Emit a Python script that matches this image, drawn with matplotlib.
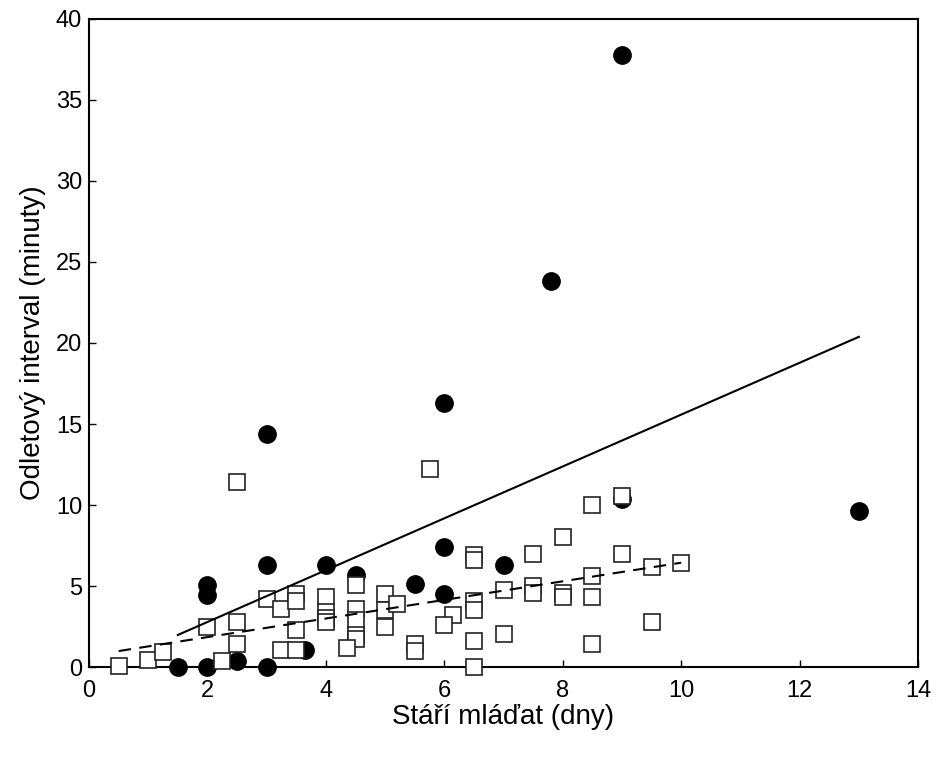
import matplotlib
matplotlib.use("Agg")
import matplotlib.pyplot as plt
import numpy as np

plt.rcParams['font.family'] = ['Liberation Sans', 'DejaVu Sans']

# Filled circles (group 1)
circ_x = [9, 7.8, 6, 3, 13, 9, 3, 4, 2, 2, 4.5, 5.5, 6, 6, 7,
          1.5, 2, 2.5, 3, 3.65]
circ_y = [37.8, 23.8, 16.3, 14.4, 9.6, 10.4, 6.3, 6.3, 5.05, 4.45, 5.7, 5.15, 7.4, 4.5, 6.3,
          0, 0, 0.35, 0, 1.05]

# Open squares (group 2)
sq_x = [0.5, 1, 1.25, 2, 2.5, 2.5, 2.25, 2.5,
        3, 3.25, 3.5, 3.5, 3.5, 3.25, 3.5,
        4, 4, 4, 4, 4.5, 4.5, 4.5, 4.5, 4.5, 4.35,
        5, 5, 5.2, 5, 5.5, 5.5, 5.75,
        6.15, 6, 6.5, 6.5, 6.5, 6.5, 6.5, 6.5,
        7, 7, 7.5, 7.5, 7.5, 8, 8, 8,
        8.5, 8.5, 8.5, 8.5, 9, 9, 9.5, 9.5, 10]
sq_y = [0.05, 0.45, 0.9, 2.45, 2.75, 1.45, 0.4, 11.45,
        4.2, 3.6, 4.5, 4.1, 2.3, 1.05, 1.05,
        4.3, 3.4, 3.0, 2.8, 5.05, 3.6, 2.9, 2.0, 1.7, 1.2,
        4.5, 3.5, 3.9, 2.45, 1.45, 1.0, 12.2,
        3.2, 2.6, 6.9, 6.6, 4.1, 3.5, 1.6, 0.0,
        4.75, 2.05, 7.0, 5.0, 4.55, 8.0, 4.6, 4.3,
        10.0, 5.6, 4.3, 1.45, 10.55, 7.0, 6.15, 2.75, 6.45]

# Fitted lines (intercept, slope)
fit_circ = (-0.42, 1.6)
fit_sq = (0.70, 0.574)

xticks = [0, 2, 4, 6, 8, 10, 12, 14]
yticks = [0, 5, 10, 15, 20, 25, 30, 35, 40]
xlabel = "Stáří mláďat (dny)"
ylabel = "Odletový interval (minuty)"

fig = plt.figure(figsize=(9.4, 7.58), dpi=100)
ax = fig.add_axes([0.0947, 0.12, 0.882, 0.855])

ax.plot(circ_x, circ_y, 'o', color='black', markersize=12.5, zorder=3, clip_on=False)
ax.plot(sq_x, sq_y, 's', markerfacecolor='white', markeredgecolor='#222222',
        markeredgewidth=1.2, markersize=12, zorder=4, clip_on=False)

xc = np.array([min(circ_x), max(circ_x)])
ax.plot(xc, fit_circ[0] + fit_circ[1] * xc, '-', color='black', linewidth=1.5, zorder=5)
xs = np.array([min(sq_x), max(sq_x)])
ax.plot(xs, fit_sq[0] + fit_sq[1] * xs, '--', color='black', linewidth=1.5,
        dashes=(6, 4), zorder=5)

ax.set_xlim(0, 14)
ax.set_ylim(0, 40)
ax.set_xticks(xticks)
ax.set_yticks(yticks)
ax.tick_params(axis='both', direction='in', length=5, width=1, labelsize=17)
ax.tick_params(axis='x', pad=9)
ax.tick_params(axis='y', pad=5)
for s in ax.spines.values():
    s.set_linewidth(1.5)
ax.set_xlabel(xlabel, fontsize=20, labelpad=2)
ax.set_ylabel(ylabel, fontsize=20, labelpad=7)

fig.savefig("out.png", dpi=100)
